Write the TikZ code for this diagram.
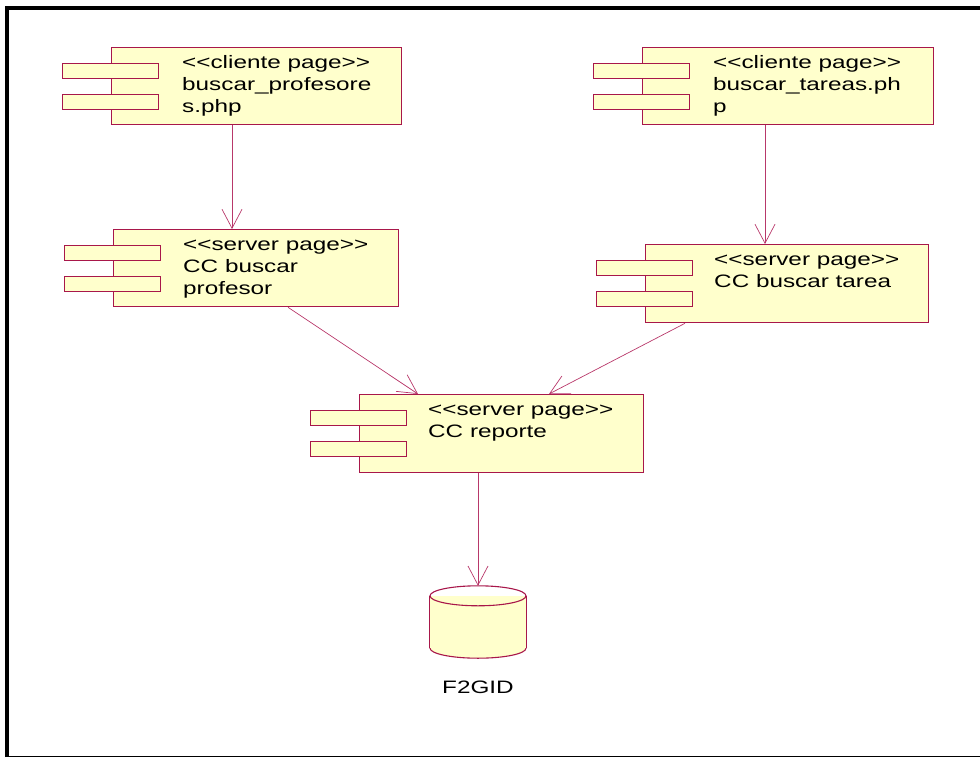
\documentclass[tikz,border=0pt]{standalone}
\usepackage{fontspec}
\newfontfamily\umlfont{Liberation Sans}[FakeStretch=1.35]
\usetikzlibrary{arrows.meta}

\definecolor{compfill}{HTML}{FFFFCC}
\definecolor{compline}{HTML}{A8174A}
\definecolor{linkline}{HTML}{B8386A}

% stereotype brackets, kept apart so no ligature mapping turns them into guillemets
\newcommand\stOpen{<\kern0pt<}
\newcommand\stClose{>\kern0pt>}

% a UML component: body plus two port tabs on its left edge
% #1 name, #2 left, #3 top, #4 width, #5 height
\newcommand\umlcomp[5]{%
  \node[compbody, minimum width=#4pt, minimum height=#5pt, anchor=north west] (#1) at (#2,#3) {};
  \node[compport, anchor=north west] (#1-p1) at ([xshift=-49pt,yshift=-16pt]#1.north west) {};
  \node[compport, anchor=north west] (#1-p2) at ([xshift=-49pt,yshift=-47pt]#1.north west) {};
}

\begin{document}
\begin{tikzpicture}[x=1pt,y=-1pt,
  compbody/.style={draw=compline, fill=compfill, line width=1.3pt, inner sep=0pt},
  compport/.style={draw=compline, fill=compfill, line width=1.3pt, inner sep=0pt,
                   minimum width=96pt, minimum height=15pt},
  lbl/.style={font=\umlfont\fontsize{18pt}{22pt}\selectfont, text=black, inner sep=0pt},
  link/.style={draw=linkline, line width=0.7pt, -{Straight Barb[length=19pt,width=20pt]}}]

\useasboundingbox (0,0) rectangle (980,758);

% page frame
\draw[line width=4pt] (7,757) -- (7,8) -- (980,8);
\draw[line width=1.2pt] (5,756.8) -- (980,756.8);

% components
\umlcomp{b1}{111}{47}{290}{77}
\umlcomp{b2}{642}{47}{291}{77}
\umlcomp{b3}{113}{229}{285}{77}
\umlcomp{b4}{645}{244}{283}{78}
\umlcomp{b5}{359}{394}{284}{78}

% component texts
\node[lbl, anchor=base west] (b1-t1) at ([xshift=71pt,yshift=-21pt]b1.north west) {\stOpen cliente page\stClose};
\node[lbl, anchor=base west] (b1-t2) at ([xshift=71pt,yshift=-43pt]b1.north west) {buscar\_profesore};
\node[lbl, anchor=base west] (b1-t3) at ([xshift=71pt,yshift=-65pt]b1.north west) {s.php};

\node[lbl, anchor=base west] (b2-t1) at ([xshift=71pt,yshift=-21pt]b2.north west) {\stOpen cliente page\stClose};
\node[lbl, anchor=base west] (b2-t2) at ([xshift=71pt,yshift=-43pt]b2.north west) {buscar\_tareas.ph};
\node[lbl, anchor=base west] (b2-t3) at ([xshift=71pt,yshift=-65pt]b2.north west) {p};

\node[lbl, anchor=base west] (b3-t1) at ([xshift=70pt,yshift=-21pt]b3.north west) {\stOpen server page\stClose};
\node[lbl, anchor=base west] (b3-t2) at ([xshift=70pt,yshift=-43pt]b3.north west) {CC buscar};
\node[lbl, anchor=base west] (b3-t3) at ([xshift=70pt,yshift=-65pt]b3.north west) {profesor};

\node[lbl, anchor=base west] (b4-t1) at ([xshift=69pt,yshift=-21pt]b4.north west) {\stOpen server page\stClose};
\node[lbl, anchor=base west] (b4-t2) at ([xshift=69pt,yshift=-43pt]b4.north west) {CC buscar tarea};

\node[lbl, anchor=base west] (b5-t1) at ([xshift=69pt,yshift=-21pt]b5.north west) {\stOpen server page\stClose};
\node[lbl, anchor=base west] (b5-t2) at ([xshift=69pt,yshift=-43pt]b5.north west) {CC reporte};

% database cylinder
\node[inner sep=0pt, minimum width=96pt, minimum height=72pt] (db) at (478,622) {};
\fill[compfill] ([yshift=-10pt]db.north west) rectangle ([yshift=10pt]db.south east);
\fill[compfill] ([yshift=10pt]db.south) ellipse (48 and 10);
\draw[compline, line width=1.1pt] ([yshift=-10pt]db.north west) -- ([yshift=10pt]db.south west);
\draw[compline, line width=1.1pt] ([yshift=-10pt]db.north east) -- ([yshift=10pt]db.south east);
\begin{scope}
  \clip ([xshift=-5pt,yshift=10pt]db.south west) rectangle ([xshift=5pt,yshift=-15pt]db.south east);
  \draw[compline, line width=1.1pt] ([yshift=10pt]db.south) ellipse (48 and 10);
\end{scope}
\draw[compline, line width=1.1pt] ([yshift=-10pt]db.north) ellipse (48 and 10);
\node[lbl, anchor=base] (db-label) at ([yshift=-35pt]db.south) {F2GID};

% dependencies
\draw[link] ([xshift=121pt]b1.south west) -- ([xshift=119pt]b3.north west);
\draw[link] ([xshift=123pt]b2.south west) -- ([xshift=120pt]b4.north west);
\draw[link] ([xshift=175pt]b3.south west) -- ([xshift=59pt]b5.north west);
\draw[link] ([xshift=40pt]b4.south west) -- ([xshift=190pt]b5.north west);
\draw[link] ([xshift=119pt]b5.south west) -- (db.north);

\end{tikzpicture}
\end{document}
